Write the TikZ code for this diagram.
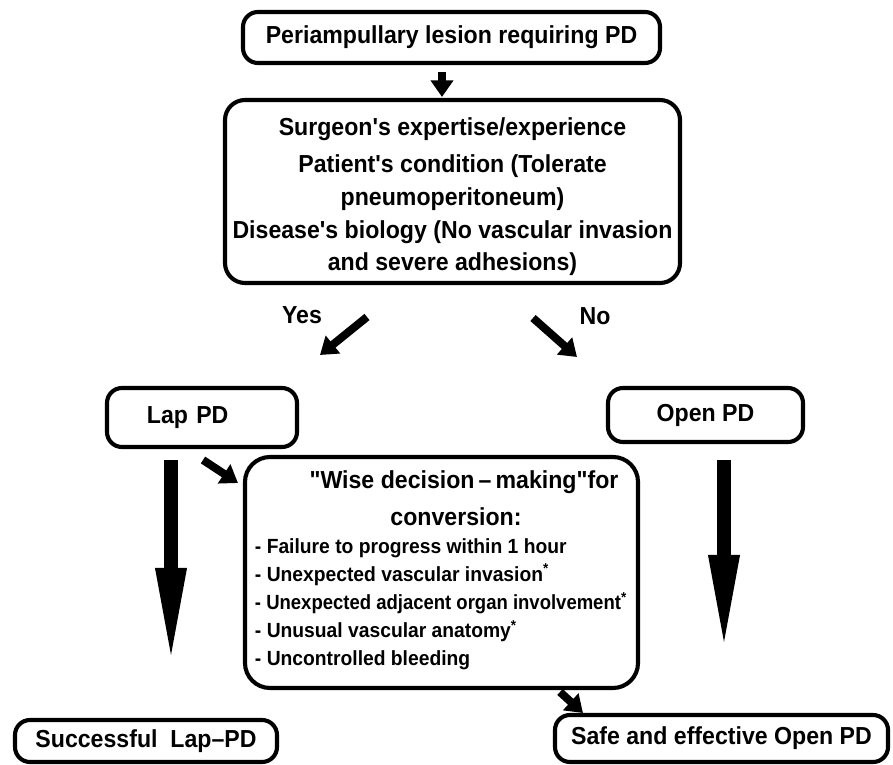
\documentclass[tikz,border=0pt]{standalone}
\usepackage{fontspec}
\setmainfont{Liberation Sans}[FakeStretch=0.94,Ligatures=TeXOff]
\usetikzlibrary{arrows.meta}
\tikzset{%
  tipS/.tip={Triangle[width=0.66cm,length=0.5cm]},
  tipB/.tip={Triangle[width=0.82cm,length=3.0cm]},
  flowbox/.style={draw, line width=3.5pt, rounded corners=0.45cm, inner sep=0pt,
    align=center, font=\bfseries\fontsize{21}{28}\selectfont},
  smallarrow/.style={line width=0.24cm, -tipS},
  bigarrow/.style={line width=0.42cm, -tipB}
}

\begin{document}
\begin{tikzpicture}[x=0.03cm,y=-0.03cm]
\useasboundingbox (0,0) rectangle (893,765);
% boxes
\node[flowbox, minimum width=12.51cm, minimum height=1.53cm] (lesion) at (451.5,37.5) {Periampullary lesion requiring PD};
\node[flowbox, rounded corners=0.6cm, minimum width=13.65cm, minimum height=5.49cm] (factors) at (452.5,191.5)
  {\rule{0pt}{24pt}Surgeon's expertise/experience\\[4pt]
   Patient's condition (Tolerate\\ pneumoperitoneum)\\
   Disease's biology (No vascular invasion\\ and severe adhesions)};
\node[flowbox, minimum width=5.7cm, minimum height=1.77cm, inner xsep=1.2cm, text width=3.3cm, align=left] (lap) at (202,417.5) {Lap PD};
\node[flowbox, minimum width=5.85cm, minimum height=1.62cm] (open) at (705.5,415) {Open PD};
\node[flowbox, rounded corners=0.75cm, minimum width=11.79cm, minimum height=6.93cm, inner xsep=0pt, text width=11.79cm, align=none] (wise) at (441.5,572.5)
  {\centering\fontsize{21}{31}\selectfont \hspace*{1.35cm}"Wise decision\,–\,making"for\\ \hspace*{0.87cm}conversion:\par
   \raggedright\fontsize{17.5}{24}\selectfont
   \hspace*{0.3cm}\begin{tabular}[t]{@{}l@{}}
   - Failure to progress within 1 hour\\
   - Unexpected vascular invasion\textsuperscript{*}\\
   \scalebox{0.96}[1]{- Unexpected adjacent organ involvement}\textsuperscript{*}\\
   - Unusual vascular anatomy\textsuperscript{*}\\
   - Uncontrolled bleeding
   \end{tabular}\par};
\node[flowbox, minimum width=7.86cm, minimum height=1.26cm] (lapok) at (146,741) {Successful~ Lap–PD};
\node[flowbox, minimum width=9.99cm, minimum height=1.41cm] (openok) at (721.5,738.5) {Safe and effective Open PD};
% labels
\node[font=\bfseries\fontsize{21}{24}\selectfont] (yes) at (302,315) {Yes};
\node[font=\bfseries\fontsize{21}{24}\selectfont] (no) at (595,316) {No};
% arrow ends
\coordinate (topA) at (442,72);  \coordinate (topB) at (442,97);
\coordinate (yesA) at (367,317); \coordinate (yesB) at (320,355);
\coordinate (noA) at (533,318);  \coordinate (noB) at (577,357);
\coordinate (lwA) at (203,460);  \coordinate (lwB) at (238,483);
\coordinate (wsA) at (560,692);  \coordinate (wsB) at (583,713);
\coordinate (lbA) at (171,460);  \coordinate (lbB) at (171,668);
\coordinate (obA) at (724,460);  \coordinate (obB) at (724,655);
% arrows
\draw[smallarrow] (topA) -- (topB);
\draw[smallarrow] (yesA) -- (yesB);
\draw[smallarrow] (noA) -- (noB);
\draw[smallarrow] (lwA) -- (lwB);
\draw[smallarrow] (wsA) -- (wsB);
\draw[bigarrow] (lbA) -- (lbB);
\draw[bigarrow] (obA) -- (obB);
\end{tikzpicture}
\end{document}
